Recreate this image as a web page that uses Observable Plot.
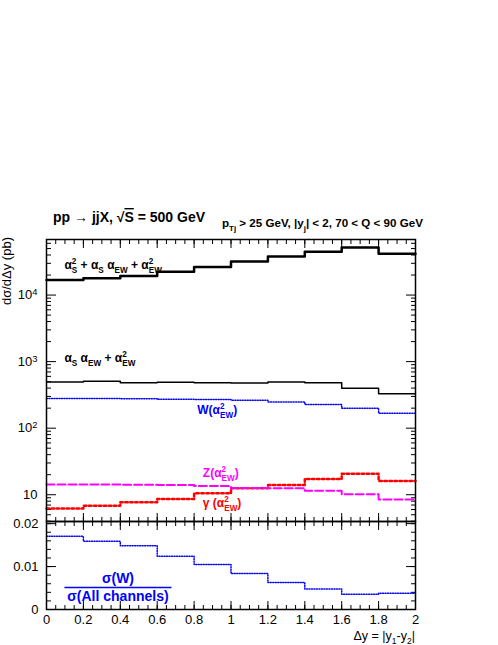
<!DOCTYPE html>
<html><head><meta charset="utf-8">
<script src="https://cdn.jsdelivr.net/npm/d3@7"></script>
<script src="https://cdn.jsdelivr.net/npm/@observablehq/plot@0.6"></script>
<style>
html,body{margin:0;padding:0;background:#fff;}
#chart{position:relative;width:498px;height:645px;overflow:hidden;}
#chart svg{position:absolute;left:0;overflow:visible;}
</style></head><body><div id="chart"></div>
<script>
// ---- data ----
const binEdges = [0, 0.2, 0.4, 0.6, 0.8, 1.0, 1.2, 1.4, 1.6, 1.8, 2.0];
const totalXS = [16900, 17900, 19400, 22500, 26500, 31900, 37900, 44700, 51800, 41700];
const mixedXS = [495, 506, 483, 489, 483, 478, 495, 483, 397, 330];
const wXS     = [278, 278, 276, 271, 270, 262, 248, 226, 199, 167];
const zXS     = [14.3, 14.2, 14.1, 14.0, 13.5, 12.6, 12.5, 11.5, 10.2, 8.5];
const gammaXS = [6.2, 6.8, 7.7, 8.6, 10.5, 12.5, 14.0, 17.2, 20.7, 16.1];
const ratioW  = [0.01705, 0.01588, 0.01488, 0.0124, 0.01047, 0.00837, 0.00628, 0.0048, 0.00356, 0.00379];
const xTickLabels = ["0","0.2","0.4","0.6","0.8","1","1.2","1.4","1.6","1.8","2"];
const yTopTicks = [10, 100, 1000, 10000];
const yTopTickLabels = ["10","10^2","10^3","10^4"];
const yRatioTicks = [0, 0.01, 0.02];
const yRatioTickLabels = ["0","0.01","0.02"];

const FONT = '"Liberation Sans", Arial, Helvetica, sans-serif';
const BLUE = "#0000ff", MAG = "#ff00ff", RED = "#ff0000";

function steps(vals){
  const pts = vals.map((v,i)=>({x:binEdges[i], y:v}));
  pts.push({x:binEdges[binEdges.length-1], y:vals[vals.length-1]});
  return pts;
}
const xMinor = d3.range(0, 41).map(i => i/20);
const logMinor = [];
for (let k=0;k<5;k++) for (let m=2;m<10;m++) logMinor.push(m*Math.pow(10,k));
const ratioMinor = d3.range(0, 11).map(i => i*0.002);
const blank = () => "";

function frameTicks(yMajor, yMinor){
  const marks = [];
  for (const a of ["top","bottom"]){
    marks.push(Plot.axisX(xMinor, {anchor:a, tickSize:-4, tickFormat:blank, label:null}));
    marks.push(Plot.axisX(binEdges, {anchor:a, tickSize:-8, tickFormat:blank, label:null}));
  }
  for (const a of ["left","right"]){
    marks.push(Plot.axisY(yMinor, {anchor:a, tickSize:-5, tickFormat:blank, label:null}));
    marks.push(Plot.axisY(yMajor, {anchor:a, tickSize:-10, tickFormat:blank, label:null}));
  }
  return marks;
}

const style = {fontFamily: FONT, fontSize: "13px", background: "none", color: "#000", overflow: "visible"};

const topPlot = Plot.plot({
  width: 498, height: 521, marginLeft: 46, marginRight: 83, marginTop: 239, marginBottom: 0,
  x: {domain: [0, 2]},
  y: {type: "log", domain: [3.96, 68400]},
  style,
  marks: [
    ...frameTicks(yTopTicks, logMinor.filter(v => v > 3.96 && v < 68400)),
    Plot.axisY(yTopTicks, {anchor:"left", tickSize:0, tickPadding:9, label:null,
      tickFormat: d => yTopTickLabels[yTopTicks.indexOf(d)]}),
    Plot.line(steps(gammaXS), {x:"x", y:"y", curve:"step-after", stroke:RED, strokeWidth:2.5, strokeDasharray:"2.5,2.5"}),
    Plot.line(steps(zXS), {x:"x", y:"y", curve:"step-after", stroke:MAG, strokeWidth:2, strokeDasharray:"8,3"}),
    Plot.line(steps(wXS), {x:"x", y:"y", curve:"step-after", stroke:BLUE, strokeWidth:1.5, strokeDasharray:"1,1.5"}),
    Plot.line(steps(mixedXS), {x:"x", y:"y", curve:"step-after", stroke:"#000", strokeWidth:1.5}),
    Plot.line(steps(totalXS), {x:"x", y:"y", curve:"step-after", stroke:"#000", strokeWidth:2.5}),
    Plot.frame({strokeWidth: 1.5})
  ]
});

const bottomPlot = Plot.plot({
  width: 498, height: 124, marginLeft: 46, marginRight: 83, marginTop: 0, marginBottom: 36,
  x: {domain: [0, 2]},
  y: {domain: [0, 0.0205]},
  style,
  marks: [
    ...frameTicks(yRatioTicks, ratioMinor),
    Plot.axisX(binEdges, {anchor:"bottom", tickSize:0, tickPadding:5, label:null,
      tickFormat: d => xTickLabels[binEdges.indexOf(d)]}),
    Plot.axisY(yRatioTicks, {anchor:"left", tickSize:0, tickPadding:8, label:null,
      tickFormat: d => yRatioTickLabels[yRatioTicks.indexOf(d)]}),
    Plot.line(steps(ratioW), {x:"x", y:"y", curve:"step-after", stroke:BLUE, strokeWidth:1.5, strokeDasharray:"1,1.5"}),
    Plot.ruleY([0.0051], {x1:0.1, x2:0.68, stroke:BLUE, strokeWidth:1.5}),
    Plot.frame({strokeWidth: 1.5})
  ]
});

const chart = document.getElementById("chart");
topPlot.style.top = "0px";
bottomPlot.style.top = "521px";
chart.appendChild(topPlot);
chart.appendChild(bottomPlot);

// superscript exponents on log tick labels
d3.select(topPlot).selectAll('g[aria-label="y-axis tick label"] text').each(function(){
  const s = this.textContent;
  if (s.includes("^")) {
    const [b, e] = s.split("^");
    this.textContent = b;
    d3.select(this).append("tspan").attr("dy", "-0.45em").attr("font-size", "0.72em").text(e);
  }
});

// rich text helper: segments {t} normal, {sub, sup} stacked scripts
function rich(svg, x, y, segs, {size=12, weight="bold", fill="#000", anchor="start"} = {}){
  const t = d3.select(svg).append("text")
    .attr("x", x).attr("y", y).attr("font-size", size).attr("font-weight", weight)
    .attr("fill", fill).attr("text-anchor", anchor).attr("font-family", FONT);
  let shift = 0, pendingDx = 0;
  const small = size * 0.68, up = -size * 0.42, down = size * 0.32;
  for (const s of segs){
    if (s.t !== undefined){
      const ts = t.append("tspan").attr("dy", -shift).text(s.t);
      if (pendingDx) ts.attr("dx", pendingDx);
      if (s.overline) ts.attr("text-decoration", "overline").style("text-decoration", "overline");
      shift = 0; pendingDx = 0;
    } else {
      let wSub = 0;
      if (s.sub !== undefined){
        const ts = t.append("tspan").attr("dy", down - shift).attr("font-size", small).text(s.sub);
        if (pendingDx) ts.attr("dx", pendingDx);
        pendingDx = 0;
        shift = down;
        wSub = ts.node().getComputedTextLength();
      }
      if (s.sup !== undefined){
        const ts = t.append("tspan").attr("dy", up - shift).attr("font-size", small).text(s.sup);
        shift = up;
        if (wSub){
          ts.attr("dx", -wSub);
          const wSup = ts.node().getComputedTextLength();
          pendingDx = Math.max(0, wSub - wSup);
        }
      }
    }
  }
  if (shift) t.append("tspan").attr("dy", -shift).text("");
  return t;
}

const sx = topPlot.scale("x"), sy = topPlot.scale("y");
rich(topPlot, sx.apply(0.1), sy.apply(24000),
  [{t:"α"},{sub:"S",sup:"2"},{t:" + α"},{sub:"S"},{t:" α"},{sub:"EW"},{t:" + α"},{sub:"EW",sup:"2"}]);
rich(topPlot, sx.apply(0.1), sy.apply(960),
  [{t:"α"},{sub:"S"},{t:" α"},{sub:"EW"},{t:" + α"},{sub:"EW",sup:"2"}]);
rich(topPlot, sx.apply(0.82), sy.apply(160),
  [{t:"W(α"},{sub:"EW",sup:"2"},{t:")"}], {fill: BLUE});
rich(topPlot, sx.apply(0.85), sy.apply(18),
  [{t:"Z(α"},{sub:"EW",sup:"2"},{t:")"}], {fill: MAG});
rich(topPlot, sx.apply(0.85), sy.apply(6.5),
  [{t:"γ (α"},{sub:"EW",sup:"2"},{t:")"}], {fill: RED});

// title, subtitle, axis titles
rich(topPlot, 53, 222, [{t:"pp → jjX, √"},{t:"S", overline:true},{t:" = 500 GeV"}], {size: 14});
rich(topPlot, 222, 227, [{t:"p"},{sub:"Tj"},{t:" > 25 GeV, |y"},{sub:"j"},{t:"| < 2, 70 < Q < 90 GeV"}], {size: 11.6});

d3.select(topPlot).append("text").attr("transform", "translate(11,237) rotate(-90)")
  .attr("text-anchor", "end").attr("font-family", FONT).attr("font-size", 13).text("dσ/dΔy (pb)");

const bx = bottomPlot.scale("x"), by = bottomPlot.scale("y");
rich(bottomPlot, bx.apply(0.39), by.apply(0.0061), [{t:"σ(W)"}], {size: 14, fill: BLUE, anchor: "middle"});
rich(bottomPlot, bx.apply(0.39), by.apply(0.0018), [{t:"σ(All channels)"}], {size: 14, fill: BLUE, anchor: "middle"});
rich(bottomPlot, bx.apply(2), 118.5, [{t:"Δy = |y"},{sub:"1"},{t:"-y"},{sub:"2"},{t:"|"}], {size: 12.5, weight: "normal", anchor: "end"});
</script>
</body></html>
